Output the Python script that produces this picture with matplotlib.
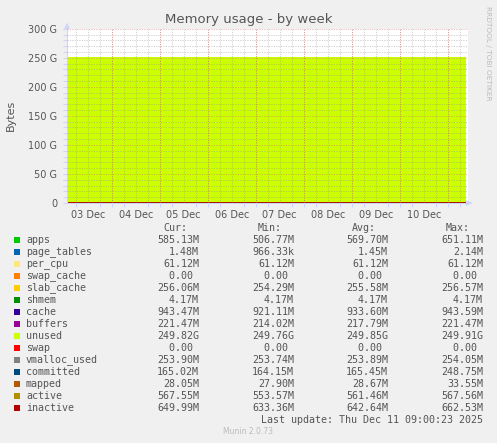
import matplotlib
matplotlib.use("Agg")
import matplotlib.pyplot as plt
import matplotlib.patches as mpatches
import numpy as np
from datetime import datetime, timedelta

# ---------------- data ----------------
times = ["2025-12-03 01:40", "2025-12-04 00:00", "2025-12-05 00:00", "2025-12-06 00:00",
         "2025-12-07 00:00", "2025-12-08 00:00", "2025-12-09 00:00", "2025-12-10 00:00",
         "2025-12-10 18:00", "2025-12-11 09:00"]

# stacked areas (values in MB unless noted)
apps        = [520.0, 560.0, 585.0, 600.0, 651.1, 570.0, 540.0, 506.8, 575.0, 585.1]
page_tables = [1.40, 1.45, 1.50, 2.14, 1.30, 0.97, 1.45, 1.50, 1.40, 1.48]
per_cpu     = [61.12] * 10
swap_cache  = [0.0] * 10
slab_cache  = [254.3, 255.0, 255.6, 256.0, 256.57, 255.2, 255.8, 255.4, 255.9, 256.06]
shmem       = [4.17] * 10
cache       = [921.1, 925.0, 930.0, 935.0, 938.0, 933.0, 936.0, 940.0, 943.59, 943.47]
buffers     = [214.0, 215.0, 216.5, 217.5, 218.0, 218.5, 219.0, 220.0, 221.0, 221.47]
unused_g    = [249.88, 249.91, 249.85, 249.80, 249.76, 249.86, 249.90, 249.89, 249.84, 249.82]  # GB
swap        = [0.0] * 10

# lines (MB)
vmalloc_used = [253.74, 253.80, 253.90, 254.05, 253.85, 253.90, 253.95, 253.88, 253.92, 253.90]
committed    = [164.15, 170.0, 248.75, 166.0, 165.0, 164.5, 165.5, 164.8, 165.2, 165.02]
mapped       = [27.90, 28.5, 33.55, 28.8, 28.2, 28.0, 28.4, 28.3, 28.1, 28.05]
active       = [553.57, 556.0, 558.0, 560.0, 562.0, 563.0, 564.0, 566.0, 567.56, 567.55]
inactive     = [633.36, 636.0, 640.0, 645.0, 662.53, 644.0, 643.0, 641.0, 646.0, 649.99]

names  = ["apps", "page_tables", "per_cpu", "swap_cache", "slab_cache", "shmem", "cache",
          "buffers", "unused", "swap", "vmalloc_used", "committed", "mapped", "active", "inactive"]
colors = ["#00CC00", "#0066B3", "#FFE680", "#FF8000", "#FFCC00", "#008F00", "#330099",
          "#990099", "#CCFF00", "#FF0000", "#808080", "#00487D", "#B35A00", "#B38F00", "#B30000"]
cur_s = ["585.13M", "1.48M", "61.12M", "0.00 ", "256.06M", "4.17M", "943.47M", "221.47M",
         "249.82G", "0.00 ", "253.90M", "165.02M", "28.05M", "567.55M", "649.99M"]
min_s = ["506.77M", "966.33k", "61.12M", "0.00 ", "254.29M", "4.17M", "921.11M", "214.02M",
         "249.76G", "0.00 ", "253.74M", "164.15M", "27.90M", "553.57M", "633.36M"]
avg_s = ["569.70M", "1.45M", "61.12M", "0.00 ", "255.58M", "4.17M", "933.60M", "217.79M",
         "249.85G", "0.00 ", "253.89M", "165.45M", "28.67M", "561.46M", "642.64M"]
max_s = ["651.11M", "2.14M", "61.12M", "0.00 ", "256.57M", "4.17M", "943.59M", "221.47M",
         "249.91G", "0.00 ", "254.05M", "248.75M", "33.55M", "567.56M", "662.53M"]

day_labels = ["03 Dec", "04 Dec", "05 Dec", "06 Dec", "07 Dec", "08 Dec", "09 Dec", "10 Dec"]
ytick_vals = [0, 50, 100, 150, 200, 250, 300]
ytick_labels = ["0", "50 G", "100 G", "150 G", "200 G", "250 G", "300 G"]

# ---------------- figure ----------------
W, H = 497, 443
fig = plt.figure(figsize=(W / 100, H / 100), dpi=100, facecolor="#F0F0F0")

def fx(x):
    return x / W

def fy(y):
    return 1 - y / H

ax_l, ax_r, ax_t, ax_b = 67, 468, 28.7, 203
ax = fig.add_axes([fx(ax_l), fy(ax_b), (ax_r - ax_l) / W, (ax_b - ax_t) / H])
ax.set_facecolor("white")

t = [datetime.strptime(s, "%Y-%m-%d %H:%M") for s in times]
M = 1e6 / 1e9  # MB -> GB
stack = [np.array(apps) * M, np.array(page_tables) * M, np.array(per_cpu) * M,
         np.array(swap_cache) * M, np.array(slab_cache) * M, np.array(shmem) * M,
         np.array(cache) * M, np.array(buffers) * M, np.array(unused_g), np.array(swap) * M]
ax.stackplot(t, *stack, colors=colors[:10], step="post", linewidth=0, zorder=1)
for vals, c in zip([vmalloc_used, committed, mapped, active, inactive], colors[10:]):
    ax.plot(t, np.array(vals) * M, color=c, lw=1.2, drawstyle="steps-post", zorder=2)

x0 = datetime(2025, 12, 3, 1, 39)
x1 = datetime(2025, 12, 11, 10, 9)
ax.set_xlim(x0, x1)
ax.set_ylim(0, 300)

# grid
day0 = datetime(2025, 12, 3)
major_days = [day0 + timedelta(days=i) for i in range(1, 9)]
minor_h = [day0 + timedelta(hours=6 * i) for i in range(0, 38)]
minor_h = [d for d in minor_h if x0 < d < x1]
gls = (0, (1, 1.4))
for d in minor_h:
    ax.axvline(d, color="#8C8C8C", alpha=0.45, lw=0.72, ls=gls, zorder=3)
for v in range(10, 300, 10):
    if v % 50:
        ax.axhline(v, color="#8C8C8C", alpha=0.45, lw=0.72, ls=gls, zorder=3)
for d in major_days:
    ax.axvline(d, color="#D86868", alpha=0.5, lw=0.72, ls=gls, zorder=3)
for v in ytick_vals[1:]:
    ax.axhline(v, color="#D86868", alpha=0.5, lw=0.72, ls=gls, zorder=3)

# ticks
ax.set_yticks(ytick_vals)
ax.set_yticklabels(ytick_labels)
ax.set_yticks(list(range(0, 301, 10)), minor=True)
ax.set_xticks([datetime(2025, 12, 3, 12) + timedelta(days=i) for i in range(8)])
ax.set_xticklabels(day_labels)
ax.set_xticks(minor_h, minor=True)
ax.tick_params(axis="both", which="both", colors="#CFD6F8", labelcolor="#555555",
               labelsize=7, length=3, width=0.8)
ax.tick_params(axis="x", which="major", length=0, pad=5)
ax.tick_params(axis="y", which="major", pad=4)

for s in ["top", "right"]:
    ax.spines[s].set_visible(False)
for s in ["left", "bottom"]:
    ax.spines[s].set_color("#CFD6F8")
    ax.spines[s].set_linewidth(0.8)
ax.spines["bottom"].set_zorder(0.5)

# arrows
ax.annotate("", xy=(fx(67), fy(20)), xytext=(fx(67), fy(29)), xycoords="figure fraction",
            arrowprops=dict(arrowstyle="-|>", color="#CFD6F8", lw=0.8, mutation_scale=8))
ax.annotate("", xy=(fx(475), fy(203)), xytext=(fx(467), fy(203)), xycoords="figure fraction",
            arrowprops=dict(arrowstyle="-|>", color="#CFD6F8", lw=0.8, mutation_scale=8))

# text
fig.text(fx(249), fy(19), "Memory usage - by week", ha="center", va="center",
         fontsize=9.5, color="#555555")
fig.text(fx(11), fy(115), "Bytes", ha="center", va="center", rotation=90,
         fontsize=8, color="#555555")
fig.text(fx(488), fy(6), "RRDTOOL / TOBI OETIKER", ha="center", va="top", rotation=270,
         fontsize=5.3, color="#BBBBBB")

mono = "DejaVu Sans Mono"
fs = 7.2
txtc = "#555555"
for x, h in zip([187, 282, 376, 470], ["Cur:", "Min:", "Avg:", "Max:"]):
    fig.text(fx(x), fy(228), h, ha="right", va="center", family=mono, fontsize=fs, color=txtc)

row0, dy = 240, 12
for i, n in enumerate(names):
    y = row0 + i * dy
    fig.patches.append(mpatches.Rectangle((fx(14), fy(y + 3)), 6 / W, 6 / H,
                       transform=fig.transFigure, facecolor=colors[i], edgecolor="none"))
    fig.text(fx(26), fy(y), n, ha="left", va="center", family=mono, fontsize=fs, color=txtc)
    for x, col in zip([199, 294, 388, 483], [cur_s, min_s, avg_s, max_s]):
        fig.text(fx(x), fy(y), col[i], ha="right", va="center", family=mono, fontsize=fs, color=txtc)

fig.text(fx(483), fy(420), "Last update: Thu Dec 11 09:00:23 2025", ha="right", va="center",
         family=mono, fontsize=fs, color=txtc)
fig.text(fx(248), fy(432), "Munin 2.0.73", ha="center", va="center", fontsize=5.5, color="#BBBBBB")

fig.savefig("out.png", dpi=100, facecolor=fig.get_facecolor())
